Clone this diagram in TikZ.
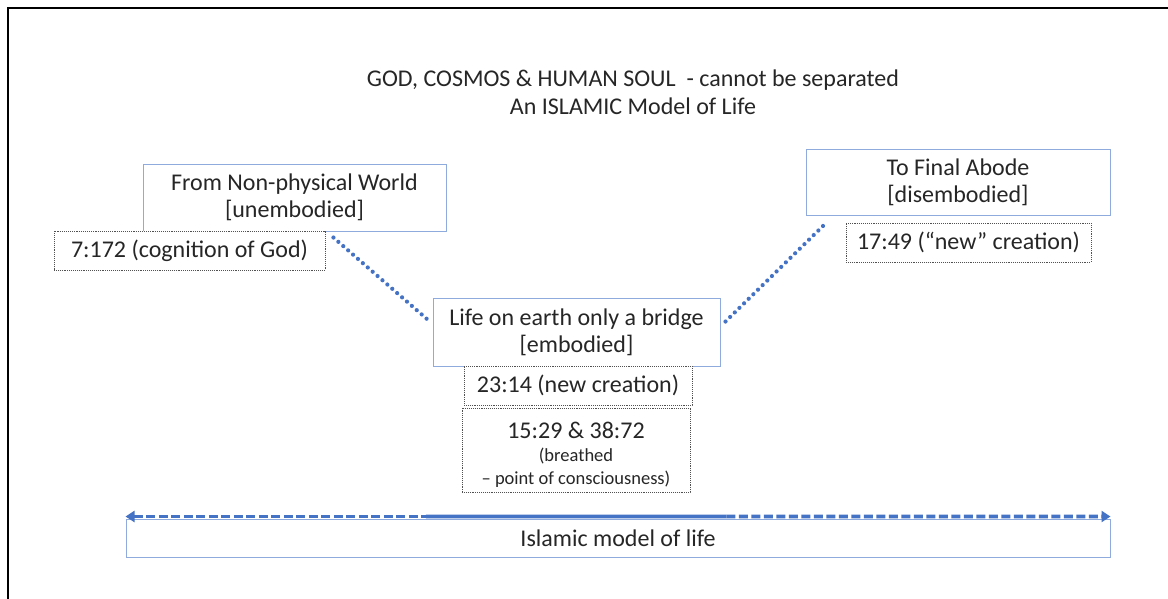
\documentclass[tikz,border=0pt]{standalone}
\usepackage{fontspec}
\setmainfont{Carlito}
\usetikzlibrary{arrows.meta,calc}
\definecolor{frameblue}{HTML}{8FAADC}
\definecolor{linkblue}{HTML}{4472C4}
\definecolor{ink}{HTML}{262626}
\tikzset{
  mainbox/.style={draw=frameblue, line width=1pt, fill=white, inner sep=0pt, align=center, text=ink, font=\fontsize{24}{27}\selectfont},
  refbox/.style={draw=ink!80, densely dotted, line width=0.9pt, fill=white, inner sep=0pt, align=center, text=ink, font=\fontsize{24}{27}\selectfont},
  link/.style={draw=linkblue, line width=4.2pt, dash pattern=on 0pt off 6.5pt, line cap=round},
  lifeline/.style={draw=linkblue, line width=3.6pt},
}
\begin{document}
\begin{tikzpicture}[x=1pt, y=-1pt]
\useasboundingbox (0,0) rectangle (1168,598);
% outer frame (open towards right and bottom)
\draw[line width=2.6pt, black] (8,610) -- (8,8) -- (1180,8);

% title
\node[text=ink, align=center, font=\fontsize{24}{28}\selectfont] (title) at (633,92)
  {GOD, COSMOS \& HUMAN SOUL\ \ - cannot be separated\\An ISLAMIC Model of Life};

% stage boxes
\node[mainbox, minimum width=303pt, minimum height=67pt] (from) at (294.5,197.5)
  {From Non-physical World\\{[unembodied]}};
\node[mainbox, minimum width=304pt, minimum height=66pt] (to) at (958,182)
  {To Final Abode\\{[disembodied]}};
\node[mainbox, minimum width=287pt, minimum height=68pt] (life) at (576.5,332)
  {Life on earth only a bridge\\{[embodied]}};

% verse references
\node[refbox, minimum width=271pt, minimum height=39pt] (v7) at (189.5,250.5)
  {7:172 (cognition of God)};
\node[refbox, minimum width=245pt, minimum height=39pt] (v17) at (968.5,242.5)
  {17:49 (“new” creation)};
\node[refbox, minimum width=228pt, minimum height=39pt] (v23) at (578,385.5)
  {23:14 (new creation)};
\node[refbox, minimum width=228pt, minimum height=84pt] (v15) at (576,450) {};
\node[text=ink, align=center, inner sep=0pt, font=\fontsize{24}{27}\selectfont] (v15text) at (576,455)
  {15:29 \& 38:72\\[-4pt]{\fontsize{18.5}{23}\selectfont (breathed}\\[-4pt]{\fontsize{18.5}{23}\selectfont -- point of consciousness)}};

% dotted links between the stages
\coordinate (fromend) at ($(v7.north east)+(8,7)$);
\coordinate (lifeinL) at ($(life.north west)+(-5,22)$);
\coordinate (lifeinR) at ($(life.north east)+(5,24)$);
\coordinate (toend) at ($(to.south west)+(19,9)$);
\draw[link] (fromend) -- (lifeinL);
\draw[link] (lifeinR) -- (toend);

% model of life band
\node[mainbox, minimum width=984pt, minimum height=38pt] (model) at (618,538)
  {Islamic model of life};
\coordinate (bl) at ($(model.north west)+(0,-2)$);
\coordinate (br) at ($(model.north east)+(0,-2)$);
\coordinate (m1) at ($(bl)!0.305!(br)$);
\coordinate (m2) at ($(bl)!0.61!(br)$);
\draw[lifeline, dash pattern=on 9pt off 3.5pt, {Triangle[length=9pt,width=11pt]}-] (bl) -- (m1);
\draw[lifeline] (m1) -- (m2);
\draw[lifeline, dash pattern=on 9pt off 3.5pt, -{Triangle[length=9pt,width=11pt]}] (m2) -- (br);
\end{tikzpicture}
\end{document}
